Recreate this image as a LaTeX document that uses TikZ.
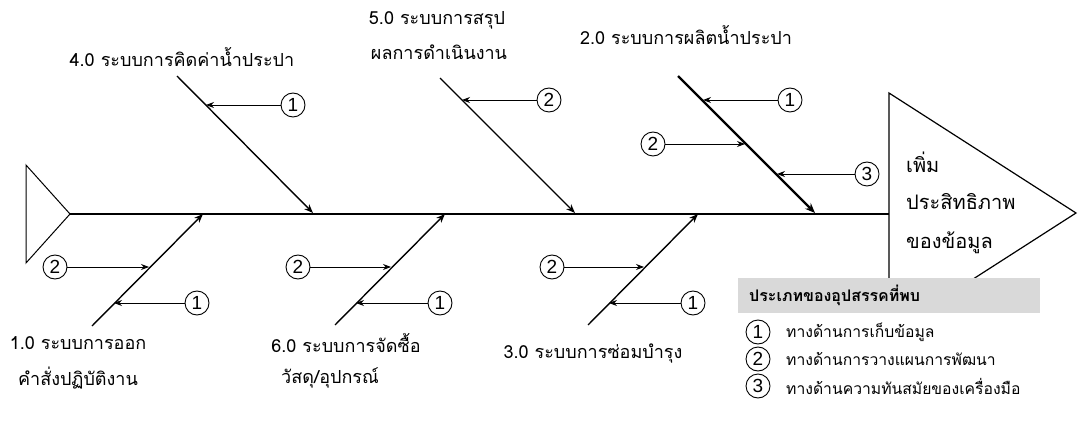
\documentclass[tikz,border=0pt]{standalone}
\usepackage{fontspec}
\setmainfont[Script=Thai]{Loma}
\newfontfamily\digitfont{Liberation Sans}
\usetikzlibrary{arrows.meta}
\tikzset{
  bone/.style={line width=1.4pt},
  thickbone/.style={line width=2.4pt},
  arr/.style={line width=0.9pt,-{Stealth[length=8pt,width=6pt]}},
  num/.style={circle,draw,line width=0.9pt,inner sep=0pt,minimum size=24pt,font=\digitfont\fontsize{19}{19}\selectfont},
  lbl/.style={font=\fontsize{18}{20}\selectfont,inner sep=0pt},
  headlbl/.style={font=\fontsize{20}{22}\selectfont,inner sep=0pt,anchor=west},
  legtxt/.style={font=\fontsize{15.7}{16}\selectfont,anchor=west,inner sep=0pt},
}
\begin{document}
\begin{tikzpicture}[x=1pt,y=-1pt]
\useasboundingbox (0,0) rectangle (1078,422);
% tail
\draw[line width=1pt] (26,165) -- (70,214) -- (26,263) -- cycle;
% spine
\coordinate (sL) at (70,214);
\coordinate (sR) at (889,214);
\draw[bone] (sL) -- (sR);
% head
\draw[line width=1.2pt,fill=white] (889,93) -- (1076,213) -- (889,333) -- cycle;
\node[headlbl] (h1) at (906,162) {เพิ่ม};
\node[headlbl] (h2) at (906,202) {ประสิทธิภาพ};
\node[headlbl] (h3) at (906,243) {ของข้อมูล};

% bone 4.0
\coordinate (b4t) at (177,76);
\coordinate (b4e) at (313,213);
\draw[bone,-{Stealth[length=9pt,width=7pt]}] (b4t) -- (b4e);
\node[lbl] (l4) at (182,57) {4.0 ระบบการคิดค่าน้ำประปา};
\node[num] (c41) at (293,105) {1};
\coordinate (p41) at (206,105);
\draw[arr] (c41) -- (p41);

% bone 5.0
\coordinate (b5t) at (440,78);
\coordinate (b5e) at (575,213);
\draw[bone,-{Stealth[length=9pt,width=7pt]}] (b5t) -- (b5e);
\node[lbl] (l5a) at (437,20) {5.0 ระบบการสรุป};
\node[lbl] (l5b) at (439,52) {ผลการดำเนินงาน};
\node[num] (c52) at (549,100) {2};
\coordinate (p52) at (462,100);
\draw[arr] (c52) -- (p52);

% bone 2.0
\coordinate (b2t) at (678,76);
\coordinate (b2e) at (815,213);
\draw[thickbone,-{Stealth[length=10pt,width=8pt]}] (b2t) -- (b2e);
\node[lbl] (l2) at (686,35) {2.0 ระบบการผลิตน้ำประปา};
\node[num] (c21) at (790,100) {1};
\coordinate (p21) at (703,100);
\draw[arr] (c21) -- (p21);
\node[num] (c22) at (653,144) {2};
\coordinate (p22) at (745,144);
\draw[arr] (c22) -- (p22);
\node[num] (c23) at (867,174) {3};
\coordinate (p23) at (777,174);
\draw[arr] (c23) -- (p23);

% bone 1.0
\coordinate (b1b) at (92,326);
\coordinate (b1t) at (203,214);
\draw[bone,-{Stealth[length=9pt,width=7pt]}] (b1b) -- (b1t);
\node[lbl] (l1a) at (78,343) {1.0 ระบบการออก};
\node[lbl] (l1b) at (78,378) {คำสั่งปฏิบัติงาน};
\node[num] (c12) at (55,267) {2};
\coordinate (p12) at (149,267);
\draw[arr] (c12) -- (p12);
\node[num] (c11) at (197,303) {1};
\coordinate (p11) at (114,303);
\draw[arr] (c11) -- (p11);

% bone 6.0
\coordinate (b6b) at (335,325);
\coordinate (b6t) at (445,214);
\draw[bone,-{Stealth[length=9pt,width=7pt]}] (b6b) -- (b6t);
\node[lbl] (l6a) at (346,343) {6.0 ระบบการจัดซื้อ};
\node[lbl] (l6b) at (330,378) {วัสดุ/อุปกรณ์};
\node[num] (c62) at (298,267) {2};
\coordinate (p62) at (391,267);
\draw[arr] (c62) -- (p62);
\node[num] (c61) at (440,303) {1};
\coordinate (p61) at (356,303);
\draw[arr] (c61) -- (p61);

% bone 3.0
\coordinate (b3b) at (588,325);
\coordinate (b3t) at (698,214);
\draw[bone,-{Stealth[length=9pt,width=7pt]}] (b3b) -- (b3t);
\node[lbl] (l3) at (593,354) {3.0 ระบบการซ่อมบำรุง};
\node[num] (c32) at (552,267) {2};
\coordinate (p32) at (644,267);
\draw[arr] (c32) -- (p32);
\node[num] (c31) at (693,303) {1};
\coordinate (p31) at (609,303);
\draw[arr] (c31) -- (p31);

% legend
\fill[white] (738,278) rectangle (1040,410);
\node[fill=black!15,minimum width=302pt,minimum height=35pt,anchor=north west,inner sep=0pt] (lh) at (738,278) {};
\node[font=\fontsize{16}{16}\selectfont\bfseries,anchor=west,inner sep=0pt] (lht) at (749,295) {ประเภทของอุปสรรคที่พบ};
\node[num] (g1) at (758,332) {1};
\node[num] (g2) at (758,359) {2};
\node[num] (g3) at (758,386) {3};
\node[legtxt] (t1) at (786,332) {ทางด้านการเก็บข้อมูล};
\node[legtxt] (t2) at (786,359) {ทางด้านการวางแผนการพัฒนา};
\node[legtxt] (t3) at (786,386) {ทางด้านความทันสมัยของเครื่องมือ};
\end{tikzpicture}
\end{document}
